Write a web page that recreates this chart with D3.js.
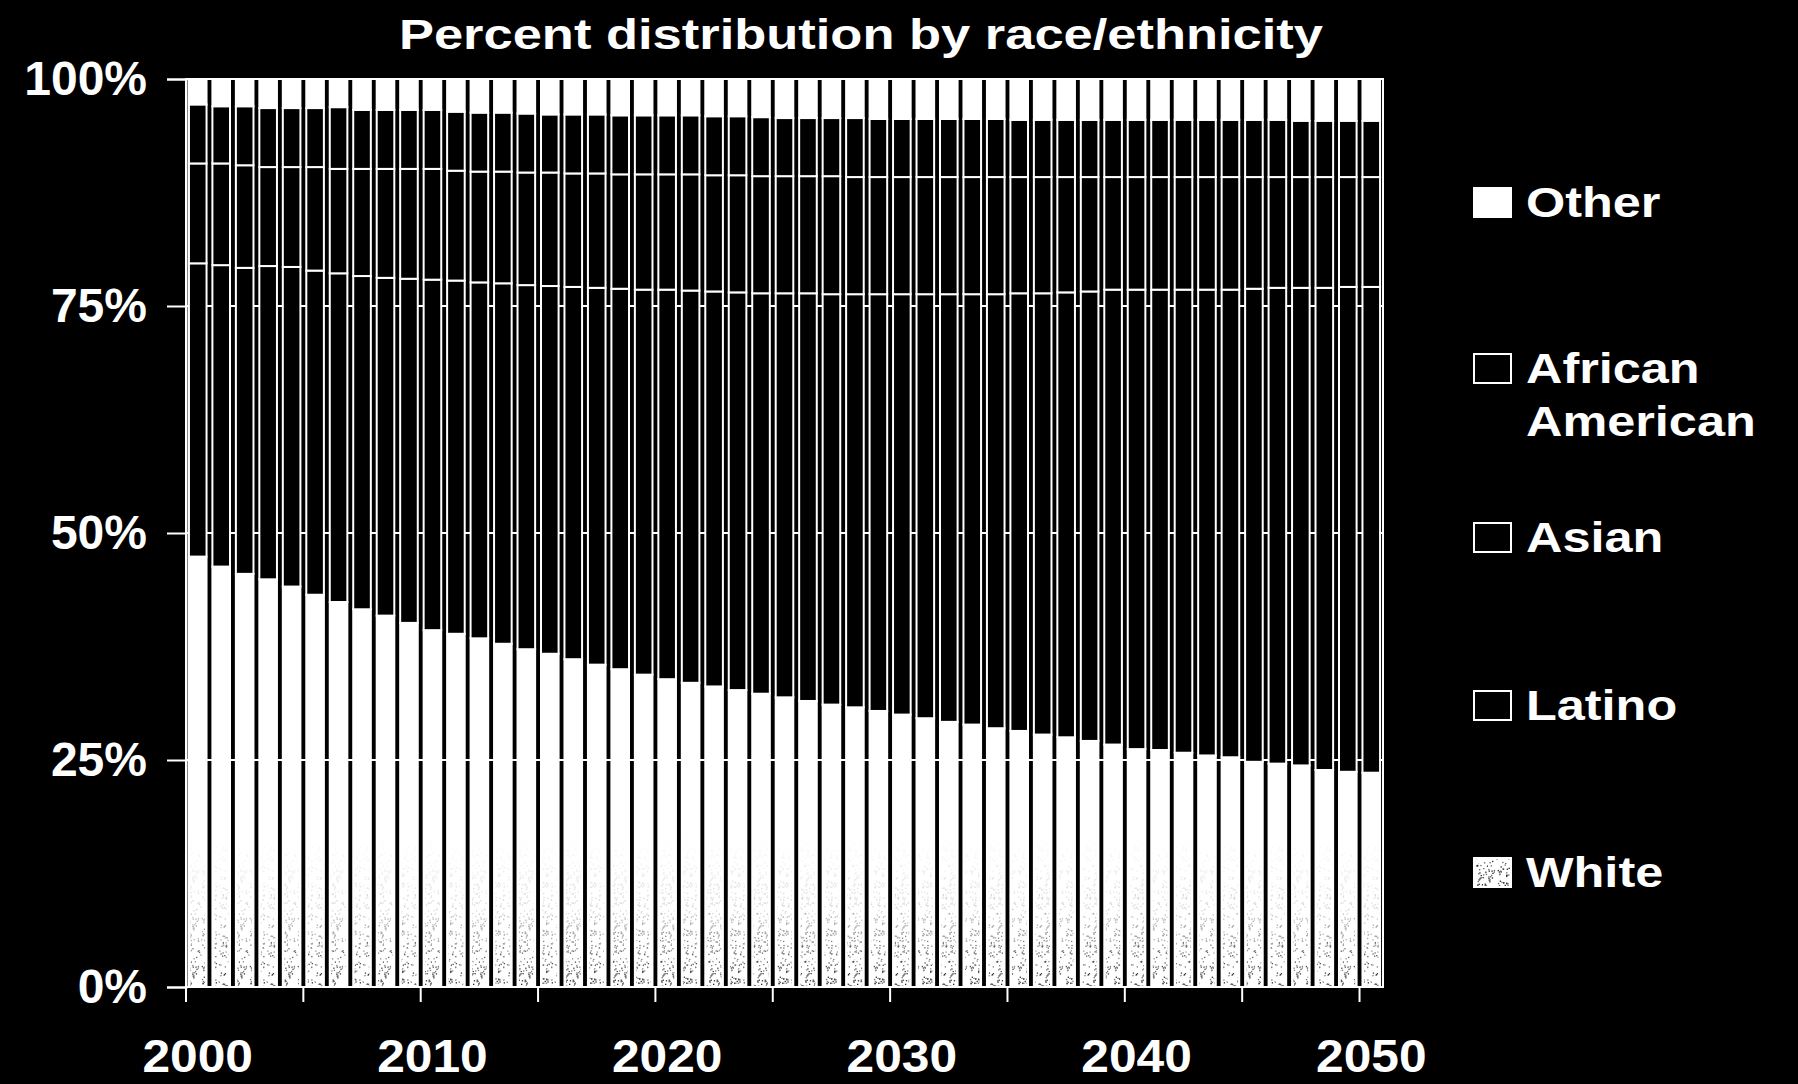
<!DOCTYPE html>
<html><head><meta charset="utf-8">
<script src="https://cdn.jsdelivr.net/npm/d3@7"></script>
<style>html,body{margin:0;padding:0;background:#000;}svg{display:block;}
text{font-family:"Liberation Sans",Arial,Helvetica,sans-serif;font-weight:bold;fill:#fff;}</style>
</head><body>
<svg id="chart" width="1798" height="1084"></svg>
<script>
const years = [2000,2001,2002,2003,2004,2005,2006,2007,2008,2009,2010,2011,2012,2013,2014,2015,2016,2017,2018,2019,2020,2021,2022,2023,2024,2025,2026,2027,2028,2029,2030,2031,2032,2033,2034,2035,2036,2037,2038,2039,2040,2041,2042,2043,2044,2045,2046,2047,2048,2049,2050];
const white = [47.4,46.3,45.5,44.9,44.1,43.2,42.4,41.6,40.9,40.1,39.3,38.9,38.4,37.8,37.2,36.7,36.1,35.5,35.0,34.4,33.9,33.5,33.1,32.7,32.3,31.9,31.5,31.1,30.8,30.4,30.0,29.6,29.2,28.9,28.5,28.2,27.8,27.5,27.1,26.7,26.2,26.1,25.8,25.5,25.3,24.8,24.6,24.4,23.9,23.7,23.6];
const latino = [32.3,33.2,33.7,34.5,35.2,35.7,36.2,36.7,37.2,37.9,38.6,38.9,39.2,39.7,40.1,40.5,41.0,41.5,41.9,42.4,42.9,43.2,43.5,43.8,44.1,44.5,44.9,45.2,45.5,45.9,46.3,46.7,47.1,47.4,47.8,48.2,48.6,49.0,49.5,50.1,50.6,50.7,51.0,51.3,51.5,52.1,52.4,52.6,53.1,53.4,53.5];
const asian = [11.0,11.2,11.3,10.9,11.0,11.4,11.5,11.8,12.0,12.1,12.2,12.1,12.2,12.3,12.4,12.5,12.5,12.6,12.6,12.7,12.7,12.8,12.8,12.9,12.9,12.9,12.9,13.0,12.9,12.9,12.9,12.9,12.9,12.9,12.9,12.8,12.8,12.7,12.6,12.4,12.4,12.4,12.4,12.4,12.4,12.3,12.2,12.2,12.2,12.1,12.1];
const africanAmerican = [6.5,6.3,6.5,6.5,6.5,6.5,6.8,6.5,6.5,6.5,6.5,6.5,6.5,6.5,6.5,6.4,6.5,6.5,6.5,6.5,6.5,6.5,6.5,6.5,6.5,6.4,6.4,6.4,6.5,6.4,6.4,6.4,6.4,6.4,6.4,6.3,6.3,6.3,6.3,6.3,6.3,6.3,6.3,6.3,6.3,6.3,6.3,6.2,6.2,6.2,6.2];
const other = [2.8,3.0,3.0,3.2,3.2,3.2,3.1,3.4,3.4,3.4,3.4,3.6,3.7,3.7,3.8,3.9,3.9,3.9,4.0,4.0,4.0,4.0,4.1,4.1,4.2,4.3,4.3,4.3,4.3,4.4,4.4,4.4,4.4,4.4,4.4,4.5,4.5,4.5,4.5,4.5,4.5,4.5,4.5,4.5,4.5,4.5,4.5,4.6,4.6,4.6,4.6];
const seriesNames = ["White","Latino","Asian","African American","Other"];
const seriesData = [white, latino, asian, africanAmerican, other];
const yTicks = [0, 0.25, 0.5, 0.75, 1];
const xTickYears = [2000,2005,2010,2015,2020,2025,2030,2035,2040,2045,2050];
const xLabelYears = [2000,2010,2020,2030,2040,2050];
const titleText = "Percent distribution by race/ethnicity";
const legendOrder = ["Other","African American","Asian","Latino","White"];

const rows = years.map((yr, i) => {
  const r = {year: yr};
  seriesNames.forEach((k, j) => r[k] = seriesData[j][i]);
  return r;
});
const stacked = d3.stack().keys(seriesNames).offset(d3.stackOffsetExpand)(rows);

const svg = d3.select("#chart");
const L = 186, R = 1383, T = 79, B = 987;
const x = d3.scaleBand().domain(years).range([L, R]).paddingInner(0.25).paddingOuter(0.125);
const y = d3.scaleLinear().domain([0, 1]).range([B, T]);

// defs: stipple pattern + fade mask
const defs = svg.append("defs");
let seed = 12345;
function lcg(){ seed = (seed * 1103515245 + 12345) % 2147483648; return seed / 2147483648; }
const pat = defs.append("pattern").attr("id","stip").attr("patternUnits","userSpaceOnUse")
  .attr("width",48).attr("height",48);
for (let i = 0; i < 180; i++) {
  pat.append("rect").attr("x", (lcg()*48).toFixed(1)).attr("y", (lcg()*48).toFixed(1))
    .attr("width", 1.3).attr("height", 1.3).attr("fill", lcg() < 0.5 ? "#222" : "#666");
}
const grad = defs.append("linearGradient").attr("id","fadeGrad").attr("gradientUnits","userSpaceOnUse")
  .attr("x1",0).attr("x2",0).attr("y1",B).attr("y2",B-150);
grad.append("stop").attr("offset",0).attr("stop-color","#fff");
grad.append("stop").attr("offset",0.25).attr("stop-color","#aaa");
grad.append("stop").attr("offset",0.55).attr("stop-color","#333");
grad.append("stop").attr("offset",1).attr("stop-color","#000");
defs.append("mask").attr("id","fade").attr("maskUnits","userSpaceOnUse")
  .attr("x",0).attr("y",0).attr("width",1798).attr("height",1084)
  .append("rect").attr("x",0).attr("y",0).attr("width",1798).attr("height",1084).attr("fill","url(#fadeGrad)");

// gridlines (behind bars)
svg.append("g").selectAll("line").data([0.25,0.5,0.75]).join("line")
  .attr("x1", L).attr("x2", R).attr("y1", d => y(d)).attr("y2", d => y(d))
  .attr("stroke", "#fff").attr("stroke-width", 2);

// bars
const fills = {"White":"#fff","Latino":"#000","Asian":"#000","African American":"#000","Other":"#fff"};
const gBars = svg.append("g");
stacked.forEach(s => {
  gBars.append("g").selectAll("rect").data(s).join("rect")
    .attr("x", d => x(d.data.year))
    .attr("width", x.bandwidth())
    .attr("y", d => y(d[1]))
    .attr("height", d => y(d[0]) - y(d[1]))
    .attr("fill", fills[s.key])
    .attr("stroke", "#fff").attr("stroke-width", 2);
});
// stipple overlay on the White series
const whiteSeries = stacked.find(s => s.key === "White");
gBars.append("g").attr("mask","url(#fade)").selectAll("rect").data(whiteSeries).join("rect")
  .attr("x", d => x(d.data.year) + 1.5)
  .attr("width", x.bandwidth() - 3)
  .attr("y", d => y(d[1]))
  .attr("height", d => y(d[0]) - y(d[1]))
  .attr("fill", "url(#stip)");

// frame
svg.append("rect").attr("x", L).attr("y", T).attr("width", R - L).attr("height", B - T)
  .attr("fill", "none").attr("stroke", "#fff").attr("stroke-width", 2);

// y axis
const yAxis = svg.append("g").attr("transform", `translate(${L},0)`)
  .call(d3.axisLeft(y).tickValues(yTicks).tickFormat(d3.format(".0%")).tickSize(19).tickPadding(20));
yAxis.select(".domain").attr("stroke","#fff").attr("stroke-width",2);
yAxis.selectAll(".tick line").attr("stroke","#fff").attr("stroke-width",2);
yAxis.selectAll(".tick text").attr("font-size", 48).attr("fill","#fff")
  .attr("font-family",'"Liberation Sans",Arial,sans-serif').attr("font-weight","bold");

// x axis: labels centered on bars, ticks between categories every 5 years
const xAxis = svg.append("g").attr("transform", `translate(0,${B})`)
  .call(d3.axisBottom(x).tickValues(xLabelYears).tickSize(0).tickPadding(0));
xAxis.select(".domain").remove();
xAxis.selectAll(".tick text").attr("font-size", 46).attr("fill","#fff")
  .attr("font-family",'"Liberation Sans",Arial,sans-serif').attr("font-weight","bold")
  .attr("dy", null).attr("y", 85);
const gap = (x.step() - x.bandwidth()) / 2;
svg.append("g").selectAll("line").data(xTickYears).join("line")
  .attr("x1", d => x(d) - gap).attr("x2", d => x(d) - gap)
  .attr("y1", B).attr("y2", B + 15)
  .attr("stroke", "#fff").attr("stroke-width", 2);

// title
svg.append("text").attr("class","title").attr("x", 861).attr("y", 49)
  .attr("text-anchor","middle").attr("font-size", 43).text(titleText);

// legend
const legendPos = {"Other":[217], "African American":[383,436], "Asian":[552], "Latino":[720], "White":[887]};
const legendLines = {"Other":["Other"], "African American":["African","American"], "Asian":["Asian"], "Latino":["Latino"], "White":["White"]};
const gLeg = svg.append("g");
legendOrder.forEach(k => {
  const base = legendPos[k][0];
  gLeg.append("rect").attr("x", 1474).attr("y", base - 29).attr("width", 37).attr("height", 29)
    .attr("stroke", "#fff").attr("stroke-width", 2)
    .attr("fill", (k === "Other" || k === "White") ? "#fff" : "#000");
  if (k === "White") {
    gLeg.append("rect").attr("x", 1475).attr("y", base - 28).attr("width", 35).attr("height", 27)
      .attr("fill", "url(#stip)");
  }
  legendLines[k].forEach((t, i) => {
    gLeg.append("text").attr("class","leg").attr("x", 1526).attr("y", legendPos[k][i])
      .attr("font-size", 42).text(t);
  });
});

// horizontal stretch of texts to match the reference proportions
function stretch(sel, f){
  sel.each(function(){
    const w = this.getComputedTextLength();
    d3.select(this).attr("textLength", (w * f).toFixed(1)).attr("lengthAdjust", "spacingAndGlyphs");
  });
}
stretch(svg.selectAll("text.title"), 1.22);
stretch(svg.selectAll("text.leg"), 1.2);
stretch(xAxis.selectAll(".tick text"), 1.08);
</script>
</body></html>
